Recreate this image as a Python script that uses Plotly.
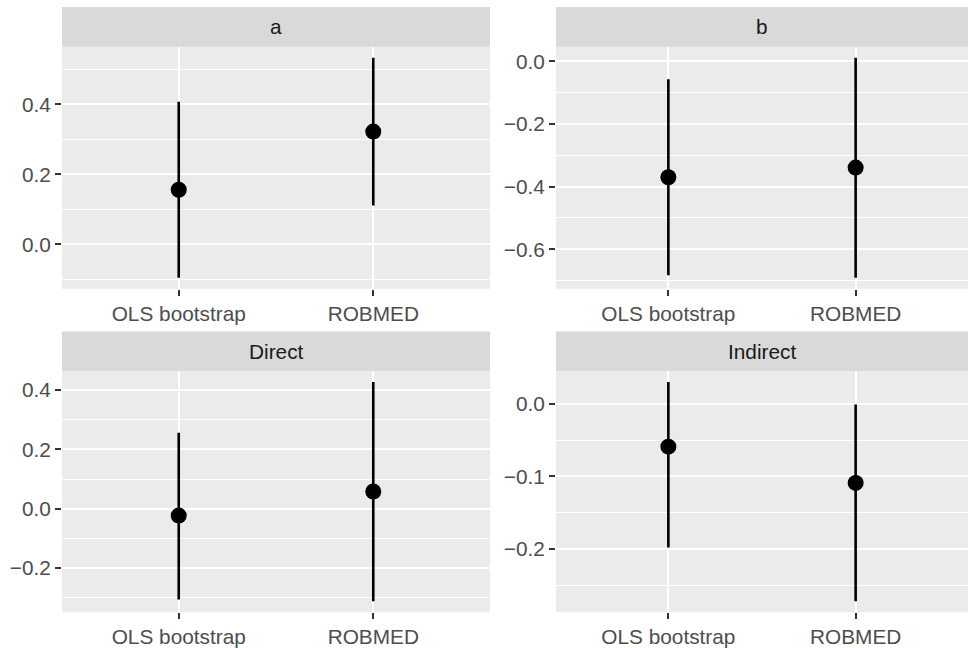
import plotly.graph_objects as go
from plotly.subplots import make_subplots

methods = ["OLS bootstrap", "ROBMED"]
params = ["a", "b", "Direct", "Indirect"]

a_est = [0.156, 0.322]
a_lower = [-0.095, 0.111]
a_upper = [0.407, 0.533]

b_est = [-0.370, -0.339]
b_lower = [-0.683, -0.691]
b_upper = [-0.057, 0.012]

direct_est = [-0.023, 0.058]
direct_lower = [-0.306, -0.312]
direct_upper = [0.256, 0.427]

indirect_est = [-0.059, -0.109]
indirect_lower = [-0.198, -0.272]
indirect_upper = [0.030, -0.001]

y_dtick = [0.2, 0.2, 0.2, 0.1]

series = [
    (a_est, a_lower, a_upper),
    (b_est, b_lower, b_upper),
    (direct_est, direct_lower, direct_upper),
    (indirect_est, indirect_lower, indirect_upper),
]

W, H = 974, 648
FONT = "Liberation Sans, Arial, sans-serif"
FS = 20.8

# panel pixel boxes (left, right, top, bottom) and strip tops
cols_px = [(62, 490), (556, 968)]
rows_px = [(47, 291, 7), (374, 617, 334)]

fig = make_subplots(rows=2, cols=2)

shapes = []
annotations = []
for i, (est, lo, up) in enumerate(series):
    r, c = divmod(i, 2)
    fig.add_trace(
        go.Scatter(
            x=methods,
            y=est,
            mode="markers",
            marker=dict(color="black", size=16),
            error_y=dict(
                type="data",
                symmetric=False,
                array=[u - e for u, e in zip(up, est)],
                arrayminus=[e - l for e, l in zip(est, lo)],
                width=0,
                thickness=2.6,
                color="black",
            ),
            showlegend=False,
        ),
        row=r + 1,
        col=c + 1,
    )
    x0, x1 = cols_px[c]
    top, bot, stop = rows_px[r]
    xd = [x0 / W, x1 / W]
    yd = [(H - bot) / H, (H - top) / H]
    ax = "" if i == 0 else str(i + 1)
    lo_all, hi_all = min(lo), max(up)
    span = hi_all - lo_all
    fig.layout["xaxis" + ax].update(
        domain=xd,
        range=[-0.6, 1.6],
        showgrid=True,
        gridcolor="white",
        gridwidth=1.8,
        ticks="outside",
        ticklen=6,
        tickwidth=1.6,
        tickcolor="#333333",
        tickfont=dict(family=FONT, size=FS, color="#4D4D4D"),
        zeroline=False,
        showline=False,
        fixedrange=True,
    )
    fig.layout["yaxis" + ax].update(
        domain=yd,
        range=[lo_all - 0.05 * span, hi_all + 0.05 * span],
        tick0=0,
        dtick=y_dtick[i],
        tickformat=".1f",
        showgrid=True,
        gridcolor="white",
        gridwidth=1.8,
        minor=dict(showgrid=True, gridcolor="white", gridwidth=0.9, dtick=y_dtick[i] / 2, tick0=0),
        ticks="outside",
        ticklen=6,
        tickwidth=1.6,
        tickcolor="#333333",
        tickfont=dict(family=FONT, size=FS, color="#4D4D4D"),
        zeroline=False,
        showline=False,
        fixedrange=True,
    )
    shapes.append(
        dict(
            type="rect",
            xref="paper",
            yref="paper",
            x0=x0 / W,
            x1=x1 / W,
            y0=(H - top) / H,
            y1=(H - stop) / H,
            fillcolor="#D9D9D9",
            line=dict(width=0),
            layer="below",
        )
    )
    annotations.append(
        dict(
            text=params[i],
            xref="paper",
            yref="paper",
            x=(x0 + x1) / 2 / W,
            y=(H - (top + stop) / 2) / H,
            xanchor="center",
            yanchor="middle",
            showarrow=False,
            font=dict(family=FONT, size=FS, color="#1A1A1A"),
        )
    )

fig.update_layout(
    width=W,
    height=H,
    margin=dict(l=0, r=0, t=0, b=0),
    paper_bgcolor="white",
    plot_bgcolor="#EBEBEB",
    shapes=shapes,
    annotations=annotations,
    font=dict(family=FONT, size=FS),
)

fig.write_html(
    "out.html",
    config={"displayModeBar": False},
    post_script="document.body.style.margin='0';document.body.style.overflow='hidden';",
)
